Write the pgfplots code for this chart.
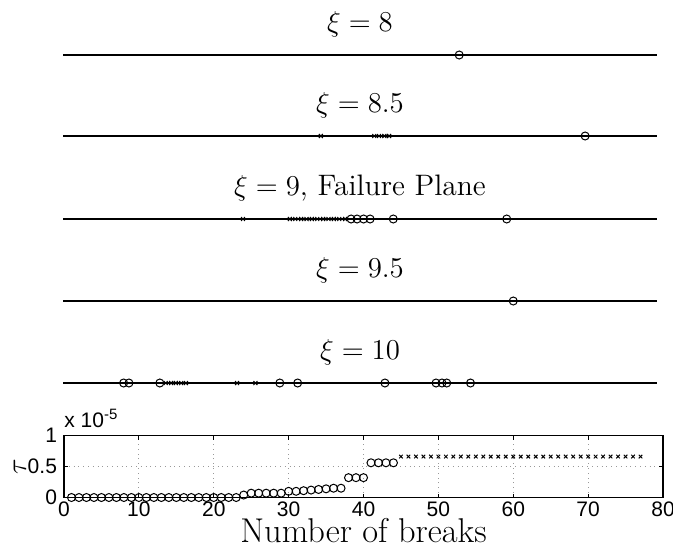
\documentclass[border=0pt]{standalone}
\usepackage{fontspec}
\usepackage{pgfplots}
\pgfplotsset{compat=1.18}
\newfontfamily\ticksans{Liberation Sans}
\newcommand\ttl{\fontsize{14.8}{18}\selectfont}
\newcommand\tck{\ticksans\fontsize{10.5}{12}\selectfont}

\pgfplotsset{
  strip/.style={scale only axis, width=297pt, height=24pt,
    xmin=0, xmax=100, ymin=-1, ymax=1, hide axis, clip=false,
    anchor=south west},
  baseline/.style={black, line width=0.7pt, no marks},
  circ/.style={black, only marks, mark=o, mark size=2pt,
    mark options={line width=0.5pt}},
  crs/.style={black, only marks, mark=x, mark size=1.4pt,
    mark options={line width=0.5pt}},
}

\begin{document}
\begin{tikzpicture}
\useasboundingbox (0,0) rectangle (336.5pt,274pt);

% xi = 8
\begin{axis}[strip, at={(31.5pt,234.5pt)}]
  \addplot[baseline] coordinates {(0,0) (100,0)};
  \addplot[circ] coordinates {(66.7,0)};
  \node[anchor=base, font=\ttl] at (rel axis cs:0.5,1) {$\xi=8$};
\end{axis}

% xi = 8.5
\begin{axis}[strip, at={(31.5pt,194pt)}]
  \addplot[baseline] coordinates {(0,0) (100,0)};
  \addplot[crs] coordinates {(43.4,0) (52.4,0) (53.2,0) (54.1,0) (54.9,0)};
  \addplot[circ] coordinates {(87.9,0)};
  \node[anchor=base, font=\ttl] at (rel axis cs:0.5,1) {$\xi=8.5$};
\end{axis}

% xi = 9
\begin{axis}[strip, at={(31.5pt,152.5pt)}]
  \addplot[baseline] coordinates {(0,0) (100,0)};
  \addplot[crs] coordinates {(30.3,0) (38.2,0) (39.1,0) (40.1,0) (41.0,0)
    (41.9,0) (42.8,0) (43.8,0) (44.7,0) (45.6,0) (46.5,0) (47.5,0)};
  \addplot[circ] coordinates {(48.5,0) (49.5,0) (50.6,0) (51.7,0) (55.6,0) (74.7,0)};
  \node[anchor=base, font=\ttl] at (rel axis cs:0.5,1) {$\xi=9$, Failure Plane};
\end{axis}

% xi = 9.5
\begin{axis}[strip, at={(31.5pt,111.5pt)}]
  \addplot[baseline] coordinates {(0,0) (100,0)};
  \addplot[circ] coordinates {(75.8,0)};
  \node[anchor=base, font=\ttl] at (rel axis cs:0.5,1) {$\xi=9.5$};
\end{axis}

% xi = 10
\begin{axis}[strip, at={(31.5pt,70.5pt)}]
  \addplot[baseline] coordinates {(0,0) (100,0)};
  \addplot[crs] coordinates {(17.3,0) (18.2,0) (19.0,0) (19.9,0) (20.7,0)
    (29.3,0) (32.4,0)};
  \addplot[circ] coordinates {(10.2,0) (11.1,0) (16.3,0) (36.5,0) (39.5,0)
    (54.2,0) (62.8,0) (63.8,0) (64.6,0) (68.6,0)};
  \node[anchor=base, font=\ttl] at (rel axis cs:0.5,1) {$\xi=10$};
\end{axis}

% tau against number of breaks (values in units of 1e-5)
\begin{axis}[at={(32pt,25.25pt)}, anchor=south west, scale only axis,
    width=299.5pt, height=31pt, xmin=0, xmax=80, ymin=0, ymax=1,
    xtick={0,10,...,80}, ytick={0,0.5,1},
    grid=major, grid style={dotted, gray!80, line width=0.4pt},
    tick align=inside, major tick length=2pt,
    tick style={black, line width=0.4pt},
    axis line style={line width=0.6pt},
    tick label style={font=\tck},
    xticklabel style={inner sep=0pt, yshift=-2pt},
    /pgf/number format/assume math mode=true,
    xlabel={Number of breaks},
    xlabel style={font=\fontsize{17.2}{20}\selectfont, at={(rel axis cs:0.5,0)},
      anchor=base, inner sep=0pt, yshift=-22.4pt},
    clip=false]
  \addplot[circ] coordinates {
    (1,0) (2,0) (3,0) (4,0) (5,0) (6,0) (7,0) (8,0) (9,0) (10,0)
    (11,0) (12,0) (13,0) (14,0) (15,0) (16,0) (17,0) (18,0) (19,0) (20,0)
    (21,0) (22,0) (23,0) (24,0.04) (25,0.07) (26,0.07) (27,0.07) (28,0.07)
    (29,0.07) (30,0.10) (31,0.10) (32,0.11) (33,0.12) (34,0.13) (35,0.14)
    (36,0.15) (37,0.15) (38,0.32) (39,0.32) (40,0.32)
    (41,0.56) (42,0.56) (43,0.56) (44,0.56)};
  \addplot[crs, mark size=1.25pt] coordinates {
    (45,0.66) (46,0.66) (47,0.66) (48,0.66) (49,0.66) (50,0.66) (51,0.66)
    (52,0.66) (53,0.66) (54,0.66) (55,0.66) (56,0.66) (57,0.66) (58,0.66)
    (59,0.66) (60,0.66) (61,0.66) (62,0.66) (63,0.66) (64,0.66) (65,0.66)
    (66,0.66) (67,0.66) (68,0.66) (69,0.66) (70,0.66) (71,0.66) (72,0.66)
    (73,0.66) (74,0.66) (75,0.66) (76,0.66) (77,0.66)};
  \node[anchor=base west, font=\ticksans\fontsize{10.5}{12}\selectfont, inner sep=0pt]
    at ([yshift=4pt]rel axis cs:0,1)
    {x 10\raisebox{0.75ex}{\fontsize{7.5}{8}\selectfont -5}};
  \node[rotate=90, font=\fontsize{15}{18}\selectfont] at ([xshift=-22pt]rel axis cs:0,0.5) {$\tau$};
\end{axis}
\end{tikzpicture}
\end{document}
